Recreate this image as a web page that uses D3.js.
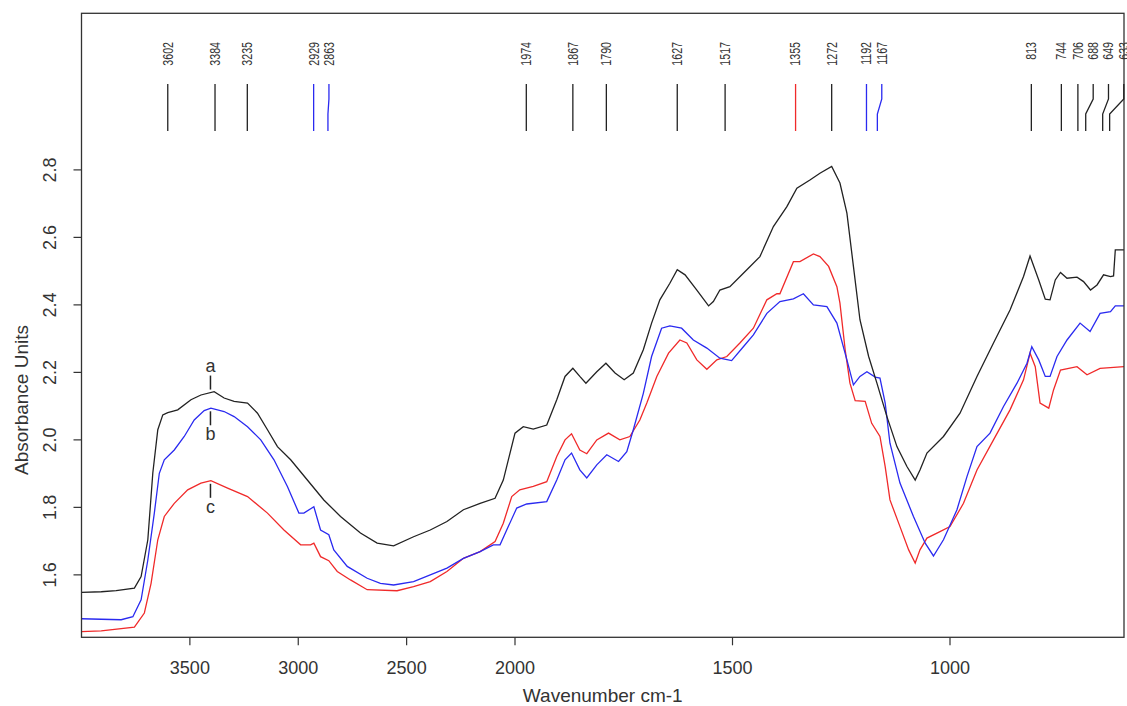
<!DOCTYPE html>
<html>
<head>
<meta charset="utf-8">
<script src="https://cdn.jsdelivr.net/npm/d3@7"></script>
<style>
  body { margin: 0; background: #fff; }
  text { font-family: "Liberation Sans", Arial, sans-serif; fill: #333; }
</style>
</head>
<body>
<div id="chart"></div>
<script>
// spectrum a (black)
var wnA = [4000,3909,3840,3756,3725,3694,3671,3648,3625,3602,3556,3495,3449,3388,3342,3296,3234,3188,3142,3096,3035,2958,2882,2805,2713,2636,2560,2468,2391,2314,2238,2161,2092,2054,2023,2000,1981,1958,1927,1904,1885,1867,1851,1837,1812,1791,1770,1749,1728,1705,1686,1667,1644,1627,1609,1582,1555,1544,1529,1506,1467,1437,1406,1375,1352,1322,1299,1272,1253,1237,1222,1207,1187,1168,1145,1122,1099,1080,1069,1053,1015,977,938,900,862,831,816,796,781,770,758,746,731,708,693,677,662,647,631,624,620,600];
var absA = [1.548,1.550,1.553,1.561,1.595,1.704,1.902,2.030,2.074,2.081,2.089,2.119,2.133,2.143,2.124,2.114,2.109,2.079,2.030,1.980,1.941,1.881,1.822,1.773,1.724,1.694,1.686,1.713,1.733,1.758,1.793,1.812,1.827,1.881,1.961,2.020,2.039,2.032,2.044,2.119,2.188,2.212,2.188,2.168,2.202,2.227,2.198,2.178,2.198,2.267,2.346,2.415,2.464,2.504,2.489,2.444,2.397,2.410,2.444,2.454,2.504,2.543,2.632,2.691,2.746,2.770,2.790,2.810,2.761,2.672,2.514,2.356,2.247,2.168,2.069,1.980,1.921,1.881,1.911,1.961,2.010,2.079,2.188,2.287,2.385,2.484,2.545,2.474,2.417,2.415,2.474,2.496,2.479,2.482,2.469,2.444,2.459,2.489,2.484,2.486,2.563,2.563];

// spectrum b (blue)
var wnB = [4000,3817,3763,3725,3694,3664,3641,3618,3572,3526,3480,3434,3403,3342,3296,3234,3173,3112,3050,2997,2974,2928,2897,2859,2836,2774,2682,2621,2560,2468,2314,2238,2161,2100,2069,2031,1996,1973,1927,1904,1885,1870,1851,1835,1812,1789,1762,1743,1728,1705,1686,1663,1644,1617,1590,1559,1529,1502,1475,1452,1421,1391,1360,1337,1314,1283,1260,1237,1222,1207,1191,1172,1161,1149,1138,1115,1084,1057,1038,1015,984,961,938,908,877,846,823,812,796,781,770,754,731,701,678,655,631,620,600];
var absB = [1.470,1.467,1.476,1.526,1.644,1.783,1.901,1.941,1.970,2.010,2.059,2.087,2.094,2.084,2.069,2.039,2.000,1.941,1.862,1.783,1.783,1.802,1.733,1.719,1.674,1.625,1.590,1.575,1.570,1.580,1.620,1.649,1.669,1.689,1.689,1.743,1.798,1.810,1.817,1.881,1.941,1.961,1.911,1.887,1.926,1.956,1.936,1.965,2.030,2.138,2.247,2.331,2.338,2.331,2.296,2.272,2.242,2.235,2.276,2.311,2.375,2.410,2.418,2.433,2.400,2.395,2.346,2.237,2.163,2.188,2.202,2.186,2.183,2.109,1.990,1.872,1.773,1.694,1.656,1.704,1.793,1.891,1.980,2.020,2.099,2.168,2.227,2.276,2.237,2.188,2.188,2.247,2.296,2.346,2.321,2.375,2.380,2.397,2.397];

// spectrum c (red)
var wnC = [4000,3909,3756,3710,3679,3648,3618,3572,3510,3449,3403,3326,3234,3142,3066,2989,2943,2928,2897,2859,2820,2759,2682,2544,2468,2391,2314,2238,2161,2092,2054,2015,1989,1958,1927,1904,1885,1870,1851,1835,1812,1785,1759,1736,1713,1697,1674,1647,1621,1605,1582,1559,1536,1513,1483,1452,1421,1398,1391,1360,1345,1314,1299,1279,1260,1253,1241,1230,1218,1195,1180,1161,1149,1138,1115,1095,1080,1069,1053,1023,1000,969,938,900,862,831,816,804,793,773,762,746,708,685,655,600];
var absC = [1.432,1.434,1.445,1.487,1.575,1.704,1.773,1.812,1.852,1.872,1.879,1.857,1.832,1.783,1.733,1.689,1.689,1.694,1.654,1.642,1.610,1.585,1.556,1.553,1.565,1.580,1.610,1.649,1.669,1.699,1.753,1.832,1.852,1.862,1.876,1.951,2.000,2.018,1.970,1.959,2.000,2.020,2.000,2.010,2.059,2.109,2.188,2.257,2.296,2.287,2.237,2.209,2.237,2.247,2.287,2.331,2.415,2.433,2.433,2.528,2.528,2.551,2.543,2.514,2.454,2.405,2.267,2.168,2.116,2.114,2.049,2.010,1.921,1.822,1.743,1.674,1.635,1.674,1.709,1.728,1.743,1.812,1.911,2.000,2.089,2.178,2.257,2.217,2.109,2.094,2.148,2.207,2.217,2.193,2.212,2.217];

// marked band positions and the colour of each marker
var peakWn = [3602,3384,3235,2929,2863,1974,1867,1790,1627,1517,1355,1272,1192,1167,813,744,706,688,649,633];
var peakColor = ['k','k','k','b','b','k','k','k','k','k','r','k','b','b','k','k','k','k','k','k'];

var xTicks = [3500,3000,2500,2000,1500,1000];
var yTicks = [1.6,1.8,2.0,2.2,2.4,2.6,2.8];

// spectrum letters: [letter, series, wavenumber, side]
var curveLabels = [['a','a',3405,-1],['b','b',3405,1],['c','c',3405,1]];

var width = 1127, height = 706;
var plotL = 81.5, plotR = 1124, plotT = 13.3, plotB = 637.3;
var colors = { k: '#222', b: '#2a2af0', r: '#f02a2a' };
var seriesColor = { a: '#222', b: '#2a2af0', c: '#f02a2a' };

// x axis is compressed by half above 2000 cm-1
var x = d3.scaleLinear().domain([4000, 2000, 600]).range([plotL, 515, plotR]);
var y = d3.scaleLinear().domain([1.415, 3.264]).range([plotB, plotT]);

var svg = d3.select('#chart').append('svg').attr('width', width).attr('height', height);

svg.append('defs').append('clipPath').attr('id', 'plot')
  .append('rect').attr('x', plotL).attr('y', plotT).attr('width', plotR - plotL).attr('height', plotB - plotT);

var series = {
  a: d3.zip(wnA, absA),
  b: d3.zip(wnB, absB),
  c: d3.zip(wnC, absC)
};

var line = d3.line().x(function(d){ return x(d[0]); }).y(function(d){ return y(d[1]); });

// curves (draw red, blue, black)
['c', 'b', 'a'].forEach(function(k){
  svg.append('path').datum(series[k])
    .attr('clip-path', 'url(#plot)')
    .attr('d', line)
    .style('fill', 'none')
    .style('stroke', seriesColor[k])
    .style('stroke-width', 1.3);
});

// box
svg.append('rect').attr('x', plotL).attr('y', plotT).attr('width', plotR - plotL).attr('height', plotB - plotT)
  .style('fill', 'none').style('stroke', '#333').style('stroke-width', 1.3);

// x axis
var gx = svg.append('g');
xTicks.forEach(function(t){
  gx.append('line').attr('x1', x(t)).attr('x2', x(t)).attr('y1', plotB).attr('y2', plotB + 8)
    .style('stroke', '#333').style('stroke-width', 1.2);
  gx.append('text').attr('x', x(t)).attr('y', 674).attr('text-anchor', 'middle')
    .style('font-size', '18px').text(t);
});
svg.append('text').attr('x', (plotL + plotR) / 2).attr('y', 702).attr('text-anchor', 'middle')
  .style('font-size', '19px').text('Wavenumber cm-1');

// y axis
var gy = svg.append('g');
yTicks.forEach(function(t){
  gy.append('line').attr('x1', plotL - 8).attr('x2', plotL).attr('y1', y(t)).attr('y2', y(t))
    .style('stroke', '#333').style('stroke-width', 1.2);
  gy.append('text').attr('transform', 'translate(56,' + y(t) + ') rotate(-90)')
    .attr('text-anchor', 'middle').style('font-size', '18px').text(d3.format('.1f')(t));
});
svg.append('text').attr('transform', 'translate(28,400) rotate(-90)')
  .attr('text-anchor', 'middle').style('font-size', '19px').text('Absorbance Units');

// band markers, labels spread so they do not overlap
var gap = 15.3;
var peaks = peakWn.map(function(w, i){ return { wn: w, c: peakColor[i], x: x(w) }; })
  .sort(function(p, q){ return p.x - q.x; });
peaks.forEach(function(p, i){
  p.lx = i === 0 ? p.x : Math.max(p.x, peaks[i - 1].lx + gap);
});
var gp = svg.append('g');
peaks.forEach(function(p){
  gp.append('path')
    .attr('d', 'M' + p.lx + ',84 L' + p.lx + ',99 L' + p.x + ',114 L' + p.x + ',131')
    .style('fill', 'none').style('stroke', colors[p.c]).style('stroke-width', 1.3);
  gp.append('text').attr('transform', 'translate(' + p.lx + ',42) rotate(-90) scale(0.76,1)')
    .attr('text-anchor', 'end').attr('dy', '0.35em').style('font-size', '14px').text(p.wn);
});

// letters naming the spectra
var bis = d3.bisector(function(d){ return -d[0]; }).left;
function valueAt(k, w){
  var s = series[k];
  var i = bis(s, -w);
  var p = s[i - 1], q = s[i];
  return p[1] + (q[1] - p[1]) * (w - p[0]) / (q[0] - p[0]);
}
curveLabels.forEach(function(l){
  var cx = x(l[2]);
  var cy = y(valueAt(l[1], l[2]));
  var y1 = cy + l[3] * 3, y2 = cy + l[3] * 17;
  svg.append('line').attr('x1', cx).attr('x2', cx).attr('y1', y1).attr('y2', y2)
    .style('stroke', '#222').style('stroke-width', 1.5);
  svg.append('text').attr('x', cx).attr('y', l[3] < 0 ? y2 - 4 : y2 + 15)
    .attr('text-anchor', 'middle').style('font-size', '18px').text(l[0]);
});
</script>
</body>
</html>
